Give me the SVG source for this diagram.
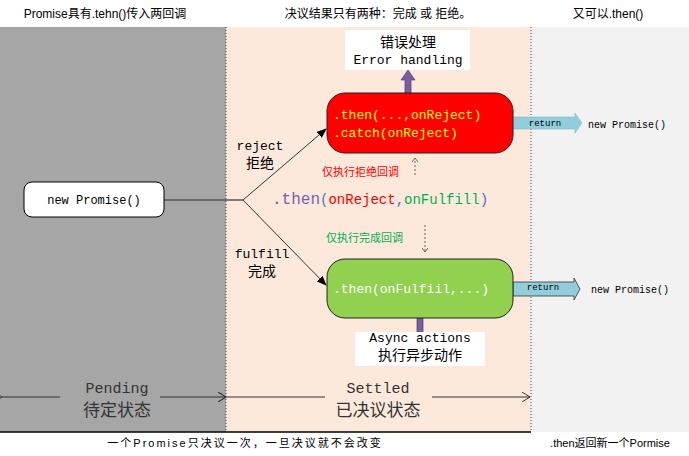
<svg xmlns="http://www.w3.org/2000/svg" width="689" height="456" viewBox="0 0 689 456">
<defs>
<style>
.m{font-family:"Liberation Mono","DejaVu Sans Mono",monospace}
.c{font-family:"Liberation Sans","Noto Sans CJK SC",sans-serif}
.ln{stroke:#333;stroke-width:1;fill:none}
</style>
<marker id="ah" markerWidth="10" markerHeight="8" refX="9" refY="4" orient="auto" markerUnits="userSpaceOnUse"><path d="M0,0 L10,4 L0,8 Z" fill="#000"/></marker>
<marker id="op" markerWidth="8" markerHeight="10" refX="8" refY="5" orient="auto" markerUnits="userSpaceOnUse"><path d="M0,0 L8,5 L0,10" fill="none" stroke="#333"/></marker>
<marker id="dh" markerWidth="8" markerHeight="6" refX="4" refY="3" orient="auto" markerUnits="userSpaceOnUse"><path d="M0,0 L4,3 L0,6" fill="none" stroke="#666"/></marker>
</defs>
<rect width="689" height="456" fill="#fff"/>
<rect x="0" y="27" width="226" height="405" fill="#a6a6a6"/>
<rect x="226" y="27" width="305" height="405" fill="#fce9dc"/>
<rect x="531" y="27" width="158" height="405" fill="#f2f2f2"/>
<line x1="226" y1="27" x2="226" y2="432" stroke="#444" stroke-dasharray="1,2"/>
<line x1="531" y1="27" x2="531" y2="432" stroke="#444" stroke-dasharray="1,2"/>
<line x1="0" y1="432" x2="531" y2="432" stroke="#000" stroke-width="1.5"/>
<text x="105" y="18" class="c" font-size="12" text-anchor="middle">Promise具有.tehn()传入两回调</text>
<text x="378" y="18" class="c" font-size="12" text-anchor="middle">决议结果只有两种：完成 或 拒绝。</text>
<text x="608" y="18" class="c" font-size="12" text-anchor="middle">又可以.then()</text>
<text x="245" y="447" class="c" font-size="11" text-anchor="middle" letter-spacing="2">一个Promise只决议一次，一旦决议就不会改变</text>
<text x="610" y="447" class="c" font-size="11" text-anchor="middle">.then返回新一个Pormise</text>
<g id="connectors">
<line x1="164" y1="200" x2="243" y2="200" stroke="#555" stroke-width="1.5"/>
<line x1="243" y1="200" x2="326" y2="129" class="ln" marker-end="url(#ah)"/>
<line x1="243" y1="200" x2="326" y2="285" class="ln" marker-end="url(#ah)"/>
<line x1="415" y1="175" x2="415" y2="158" stroke="#666" stroke-dasharray="2,2" marker-end="url(#dh)"/>
<line x1="425" y1="225" x2="425" y2="252" stroke="#666" stroke-dasharray="2,2" marker-end="url(#dh)"/>
<path d="M405,93 V80 H401 L408,70 L415,80 H411 V93 Z" fill="#7a5f9e" stroke="#4a3a6a" stroke-width="0.7"/>
<path d="M417,318 V334 H413 L420,344 L427,334 H423 V318 Z" fill="#7a5f9e" stroke="#4a3a6a" stroke-width="0.7"/>
<path d="M513,117 H575 V113 L582,123 L575,133 V129 H513 Z" fill="#92cddc" stroke="#7fb8c8" stroke-width="0.6"/>
<path d="M513,282 H574 V278 L580,289 L574,300 V296 H513 Z" fill="#92cddc" stroke="#333" stroke-width="0.8"/>
<text x="545" y="126" class="m" font-size="9" text-anchor="middle">return</text>
<text x="543" y="290" class="m" font-size="9" text-anchor="middle">return</text>
<line x1="2" y1="397" x2="60" y2="397" class="ln" marker-start="url(#op)"/>
<line x1="160" y1="397" x2="226" y2="397" class="ln" marker-end="url(#op)"/>
<line x1="226" y1="397" x2="325" y2="397" class="ln" marker-start="url(#op)"/>
<line x1="432" y1="397" x2="530" y2="397" class="ln" marker-end="url(#op)"/>
</g>
<g id="n-new"><rect x="24" y="182" width="140" height="35" rx="8" fill="#fff" stroke="#000"/>
<text x="94" y="204" class="m" font-size="12" text-anchor="middle">new Promise()</text></g>
<g id="n-reject"><rect x="327" y="93" width="186" height="60" rx="18" fill="#ff0000" stroke="#222"/>
<text x="333" y="119" class="m" font-size="13" fill="#ffff00">.then(...,onReject)</text>
<text x="333" y="137" class="m" font-size="13" fill="#ffff00">.catch(onReject)</text></g>
<g id="n-fulfill"><rect x="327" y="259" width="186" height="59" rx="18" fill="#92d050" stroke="#222"/>
<text x="333" y="293" class="m" font-size="13" fill="#fff">.then(onFulfiil,...)</text></g>
<g id="n-err"><rect x="345" y="30" width="125" height="40" fill="#fff"/>
<text x="408" y="47" class="c" font-size="14" text-anchor="middle">错误处理</text>
<text x="408" y="64" class="m" font-size="13" text-anchor="middle">Error handling</text></g>
<g id="n-async"><rect x="355" y="332" width="130" height="34" fill="#fff"/>
<text x="420" y="342" class="m" font-size="13" text-anchor="middle">Async actions</text>
<text x="420" y="360" class="c" font-size="14" text-anchor="middle">执行异步动作</text></g>
<g id="labels">
<text x="260" y="150" class="m" font-size="13" text-anchor="middle">reject</text>
<text x="260" y="168" class="c" font-size="14" text-anchor="middle">拒绝</text>
<text x="262" y="258" class="m" font-size="13" text-anchor="middle">fulfill</text>
<text x="262" y="276" class="c" font-size="14" text-anchor="middle">完成</text>
<text x="322" y="176" class="c" font-size="11" fill="#ff0000">仅执行拒绝回调</text>
<text x="326" y="242" class="c" font-size="11" fill="#00b050">仅执行完成回调</text>
<text x="272" y="204" class="m" font-size="14"><tspan fill="#7a5fae" font-size="16">.then</tspan><tspan fill="#4472c4">(</tspan><tspan fill="#ff0000">onReject</tspan><tspan fill="#4472c4">,</tspan><tspan fill="#00b050">onFulfill</tspan><tspan fill="#4472c4">)</tspan></text>
<text x="588" y="128" class="m" font-size="10">new Promise()</text>
<text x="591" y="293" class="m" font-size="10">new Promise()</text>
<text x="117" y="393" class="m" font-size="15" text-anchor="middle" fill="#333">Pending</text>
<text x="117" y="416" class="c" font-size="17" text-anchor="middle" fill="#333">待定状态</text>
<text x="378" y="393" class="m" font-size="15" text-anchor="middle" fill="#333">Settled</text>
<text x="378" y="416" class="c" font-size="17" text-anchor="middle" fill="#333">已决议状态</text>
</g>
</svg>
